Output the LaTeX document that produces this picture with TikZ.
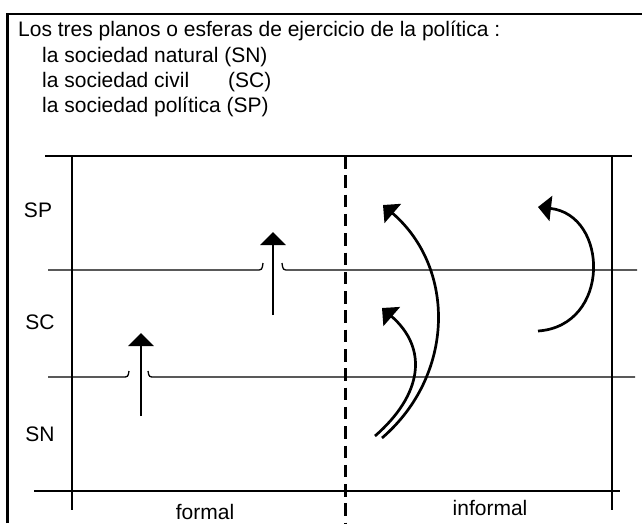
\documentclass[tikz,border=0pt]{standalone}
\usepackage{fontspec}
\setmainfont{Liberation Sans}
\usetikzlibrary{arrows.meta}
\begin{document}
\begin{tikzpicture}[x=1pt, y=-1pt, every node/.style={font=\fontsize{21}{25}\selectfont, inner sep=0pt},
    ebene/.style={line width=1.3pt},
    flecha/.style={line width=2.7pt, -{Triangle[length=13pt,width=25pt]}}]
        \useasboundingbox (0,0) rectangle (642,523);

        % Rahmen (nur links und oben sichtbar)
        \draw[line width=2.2pt] (7.5,523) -- (7.5,14) -- (642,14);

        % Titel und Legende
        \node[anchor=base west] (titel) at (18,36) {Los tres planos o esferas de ejercicio de la política :};
        \node[anchor=base west] (natural) at (42,62) {la sociedad natural (SN)};
        \node[anchor=base west] (civil) at (42,87) {la sociedad civil};
        \node[anchor=base west] (civilabk) at (228,87) {(SC)};
        \node[anchor=base west] (politica) at (42,112) {la sociedad política (SP)};

        % Ebenen: waagrechte Linien, mit Durchlass fuer die Pfeile
        \draw[ebene] (45,156) -- (632,156);
        \draw[ebene] (48,270) -- (256,270) .. controls (262,270) .. (263,263);
        \draw[ebene] (282,263) .. controls (283,270) .. (289,270) -- (637,270);
        \draw[ebene] (48,377) -- (122,377) .. controls (128,377) .. (129,371);
        \draw[ebene] (148,371) .. controls (149,377) .. (155,377) -- (635,377);
        \draw[ebene] (34,491) -- (620,491);

        % Spalten: formal | informal
        \draw[ebene] (72,156) -- (72,510);
        \draw[ebene] (612,156) -- (612,510);
        \draw[line width=3pt, dash pattern=on 12.5pt off 6.8pt] (345,156) -- (345,523);

        % Beschriftung der Ebenen
        \node (sp) at (38,210) {SP};
        \node (sc) at (40,322) {SC};
        \node (sn) at (40,434) {SN};
        \node[anchor=base] (formal) at (205,519) {formal};
        \node[anchor=base] (informal) at (490,515) {informal};

        % Pfeile formal: SN -> SC, SC -> SP
        \coordinate (f1u) at (141,416);
        \coordinate (f1o) at (141,333);
        \coordinate (f2u) at (273,315);
        \coordinate (f2o) at (273,232);
        \draw[flecha] (f1u) -- (f1o);
        \draw[flecha] (f2u) -- (f2o);

        % Pfeile informal: SN -> SP, SN -> SC, SC -> SP
        \coordinate (i1u) at (382,438);
        \coordinate (i1o) at (383,205);
        \coordinate (i2u) at (375,436);
        \coordinate (i2o) at (382,308);
        \coordinate (i3u) at (538,331);
        \coordinate (i3o) at (538,207);
        \draw[flecha] (i1u) .. controls (455,375) and (456,268) .. (i1o);
        \draw[flecha] (i2u) .. controls (422,395) and (429,349) .. (i2o);
        \draw[flecha] (i3u) .. controls (611,326) and (609,215) .. (i3o);
\end{tikzpicture}
\end{document}
